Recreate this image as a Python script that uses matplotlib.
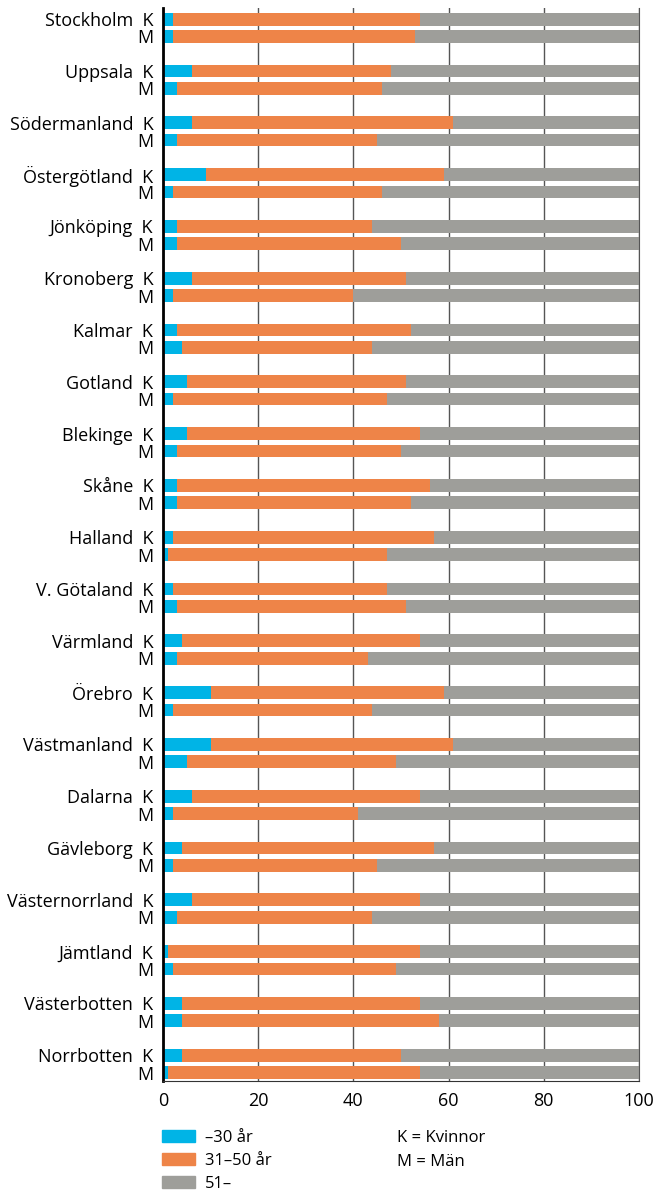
import numpy as np
import matplotlib
matplotlib.use('Agg')
import matplotlib.pyplot as plt

plt.rcParams['font.family'] = ['Open Sans', 'DejaVu Sans']

# Län (regions), top to bottom
regions = ['Stockholm', 'Uppsala', 'Södermanland', 'Östergötland', 'Jönköping',
           'Kronoberg', 'Kalmar', 'Gotland', 'Blekinge', 'Skåne', 'Halland',
           'V. Götaland', 'Värmland', 'Örebro', 'Västmanland', 'Dalarna',
           'Gävleborg', 'Västernorrland', 'Jämtland', 'Västerbotten', 'Norrbotten']

# Andel (%) per åldersgrupp, K = Kvinnor, M = Män
k_young = [2, 6, 6, 9, 3, 6, 3, 5, 5, 3, 2, 2, 4, 10, 10, 6, 4, 6, 1, 4, 4]
k_mid   = [52, 42, 55, 50, 41, 45, 49, 46, 49, 53, 55, 45, 50, 49, 51, 48, 53, 48, 53, 50, 46]
k_old   = [46, 52, 39, 41, 56, 49, 48, 49, 46, 44, 43, 53, 46, 41, 39, 46, 43, 46, 46, 46, 50]

m_young = [2, 3, 3, 2, 3, 2, 4, 2, 3, 3, 1, 3, 3, 2, 5, 2, 2, 3, 2, 4, 1]
m_mid   = [51, 43, 42, 44, 47, 38, 40, 45, 47, 49, 46, 48, 40, 42, 44, 39, 43, 41, 47, 54, 53]
m_old   = [47, 54, 55, 54, 50, 60, 56, 53, 50, 48, 53, 49, 57, 56, 51, 59, 55, 56, 51, 42, 46]

age_labels = ['\u201330 år', '31\u201350 år', '51\u2013']
colors = ['#00b4e6', '#ee8448', '#9e9e9a']

fig = plt.figure(figsize=(6.56, 11.94), dpi=100)
ax = fig.add_axes([163 / 656, 1 - 1081 / 1194, 476 / 656, 1073 / 1194])

n = len(regions)
y_k = np.arange(n) * 3
y_m = y_k + 1
h = 0.74

for y, young, mid, old in [(y_k, k_young, k_mid, k_old), (y_m, m_young, m_mid, m_old)]:
    young = np.array(young)
    mid = np.array(mid)
    old = np.array(old)
    ax.barh(y, young, height=h, color=colors[0], zorder=2)
    ax.barh(y, mid, left=young, height=h, color=colors[1], zorder=2)
    ax.barh(y, old, left=young + mid, height=h, color=colors[2], zorder=2)

ax.set_xlim(0, 100)
ax.set_ylim(61.49, -0.65)

ticks_y = np.concatenate([y_k, y_m])
ticks_lab = [f'{r}  K' for r in regions] + ['M'] * n
ax.set_yticks(ticks_y)
ax.set_yticklabels(ticks_lab, fontsize=13)
ax.tick_params(axis='y', length=0, pad=7)

ax.set_xticks([0, 20, 40, 60, 80, 100])
ax.tick_params(axis='x', length=0, pad=8, labelsize=13)

ax.grid(axis='x', color='#555555', linewidth=1, zorder=0)
ax.set_axisbelow(True)
ax.spines['top'].set_visible(False)
ax.spines['right'].set_color('#555555')
ax.spines['bottom'].set_color('#333333')
ax.spines['left'].set_color('black')
ax.spines['left'].set_linewidth(2)

# Legend
handles = [plt.Rectangle((0, 0), 1, 1, color=c) for c in colors]
fig.legend(handles, age_labels, loc='upper left',
           bbox_to_anchor=(162 / 656, 1 - 1130 / 1194), frameon=False,
           fontsize=12, handlelength=2.0, handleheight=0.75,
           handletextpad=0.6, labelspacing=0.42, borderpad=0, borderaxespad=0)
fig.text(397 / 656, 1 - 1138 / 1194, 'K = Kvinnor', fontsize=12, va='center')
fig.text(397 / 656, 1 - 1162 / 1194, 'M = Män', fontsize=12, va='center')

fig.savefig('out.png', dpi=100)
